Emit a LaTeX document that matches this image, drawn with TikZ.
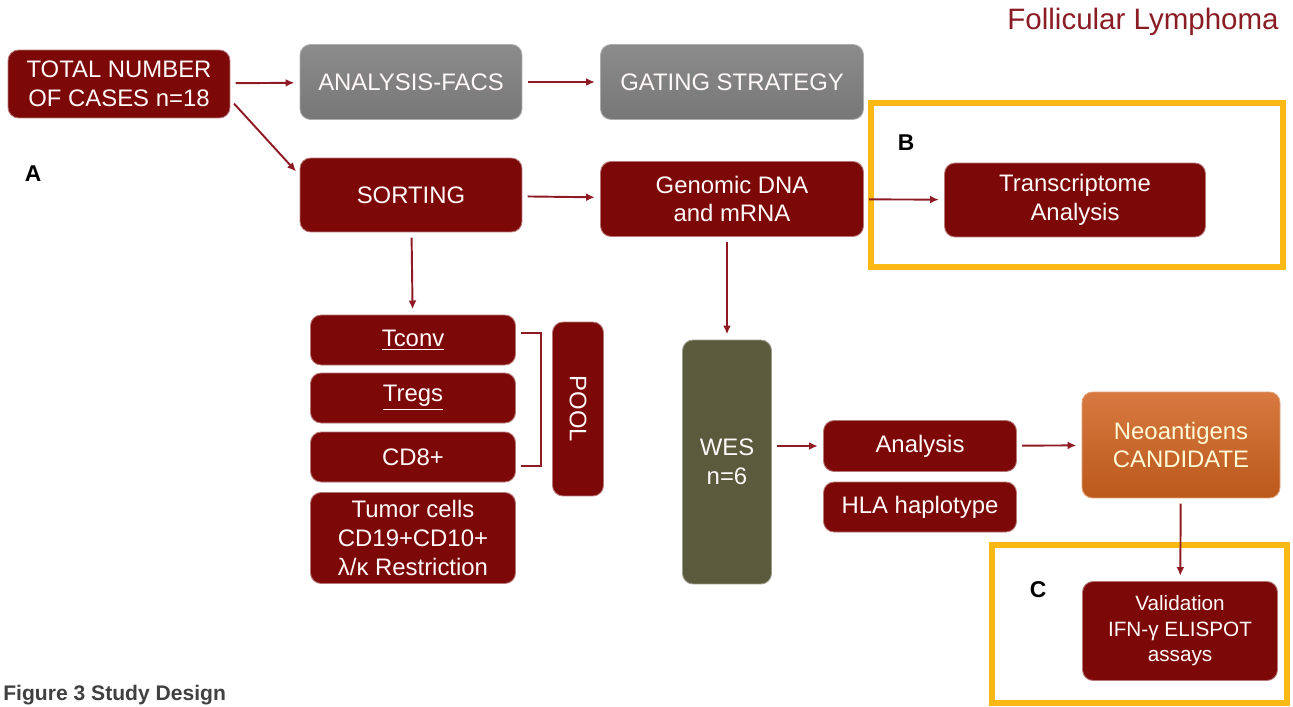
\documentclass[tikz,border=0pt]{standalone}
\usepackage{fontspec}
\setmainfont{Liberation Sans}
\usetikzlibrary{arrows.meta}
\definecolor{boxred}{HTML}{7C0808}
\definecolor{linered}{HTML}{8E1B24}
\definecolor{facsgray}{HTML}{777777}
\definecolor{wesolive}{HTML}{5A5A3D}
\definecolor{neoorange}{HTML}{D0621F}
\definecolor{framegold}{HTML}{FDB913}
\definecolor{titlered}{HTML}{8A1C24}
\tikzset{
  redbox/.style={rectangle, rounded corners=6pt, fill=boxred, draw=boxred!55!white,
    line width=0.5pt, text=white!90!pink, align=center, inner sep=2pt,
    font=\fontsize{13.6}{16.4}\selectfont},
  graybox/.style={redbox, fill=none, top color=facsgray!85!white, bottom color=facsgray,
    draw=facsgray!60!white},
  arr/.style={draw=linered, line width=1.1pt, -{Latex[length=5pt,width=4.5pt]},
    shorten <=3pt, shorten >=3pt},
  frame/.style={draw=framegold, line width=3pt},
  panel/.style={font=\bfseries\fontsize{13}{15}\selectfont},
}
\begin{document}
\begin{tikzpicture}[x=0.02cm,y=-0.02cm]
  \useasboundingbox (0,0) rectangle (1293,706);

  \node[text=titlered, font=\fontsize{16.8}{19}\selectfont] (title) at (1143,22) {Follicular Lymphoma};
  \node[anchor=south west, inner sep=0pt, text=black!75, font=\bfseries\fontsize{12}{14}\selectfont] (caption) at (3,705) {Figure 3 Study Design};

  % frames B and C
  \draw[frame] (871,103) rectangle (1283,267);
  \draw[frame] (992,545) rectangle (1287,703);
  \node[panel] (lblA) at (33,174) {A};
  \node[panel] (lblB) at (906,143) {B};
  \node[panel] (lblC) at (1038,590) {C};

  % first row
  \node[redbox, minimum width=4.44cm, minimum height=1.36cm] (total) at (119,84) {TOTAL NUMBER\\OF CASES n=18};
  \node[graybox, minimum width=4.44cm, minimum height=1.5cm] (facs) at (411,82) {ANALYSIS-FACS};
  \node[graybox, minimum width=5.26cm, minimum height=1.5cm] (gating) at (732,82) {GATING STRATEGY};

  % second row
  \node[redbox, minimum width=4.44cm, minimum height=1.48cm] (sorting) at (411,195) {SORTING};
  \node[redbox, minimum width=5.26cm, minimum height=1.5cm] (genomic) at (732,199) {Genomic DNA\\and mRNA};
  \node[redbox, minimum width=5.22cm, minimum height=1.48cm] (transcr) at (1075,200) {Transcriptome\\Analysis};

  % cell populations
  \node[redbox, minimum width=4.1cm, minimum height=1.0cm] (tconv) at (413,340) {\underline{Tconv}};
  \node[redbox, minimum width=4.1cm, minimum height=1.0cm] (tregs) at (413,398) {\underline{Tregs}};
  \node[redbox, minimum width=4.1cm, minimum height=1.0cm] (cd8) at (413,457) {CD8+};
  \node[redbox, minimum width=4.1cm, minimum height=1.82cm] (tumor) at (413,538) {Tumor cells\\CD19+CD10+\\λ/κ Restriction};
  \node[redbox, rotate=-90, minimum width=3.48cm, minimum height=1.02cm] (pool) at (578,409) {POOL};
  \coordinate (br1) at (521,333);
  \coordinate (br2) at (521,466);
  \draw[linered, line width=1.1pt] (br1) -- ++(20,0) |- (br2);

  % sequencing
  \node[redbox, fill=wesolive, draw=wesolive!60!white, minimum width=1.78cm, minimum height=4.88cm] (wes) at (727,462) {WES\\n=6};
  \node[redbox, minimum width=3.86cm, minimum height=1.02cm] (analysis) at (920,446) {Analysis};
  \node[redbox, minimum width=3.86cm, minimum height=1.0cm] (hla) at (920,507) {HLA haplotype};
  \node[redbox, fill=none, top color=neoorange!85!white, bottom color=neoorange!90!black,
    draw=neoorange!60!white, text=yellow!15!white, minimum width=3.96cm, minimum height=2.12cm] (neo) at (1181,445) {Neoantigens\\CANDIDATE};
  \node[redbox, font=\fontsize{11.8}{14.5}\selectfont, minimum width=3.9cm, minimum height=1.98cm] (valid) at (1180,631) {Validation\\IFN-γ ELISPOT\\assays};

  \draw[arr] (total) -- (facs);
  \draw[arr] (total.-8) -- (sorting.170);
  \draw[arr] (facs) -- (gating);
  \draw[arr] (sorting) -- (genomic);
  \draw[arr] (genomic) -- (transcr);
  \draw[arr] (sorting) -- (tconv);
  \draw[arr] (wes.north |- genomic.south) -- (wes);
  \draw[arr] (wes.north east |- analysis) -- (analysis);
  \draw[arr] (analysis) -- (neo);
  \draw[arr] (neo) -- (valid);
\end{tikzpicture}
\end{document}
